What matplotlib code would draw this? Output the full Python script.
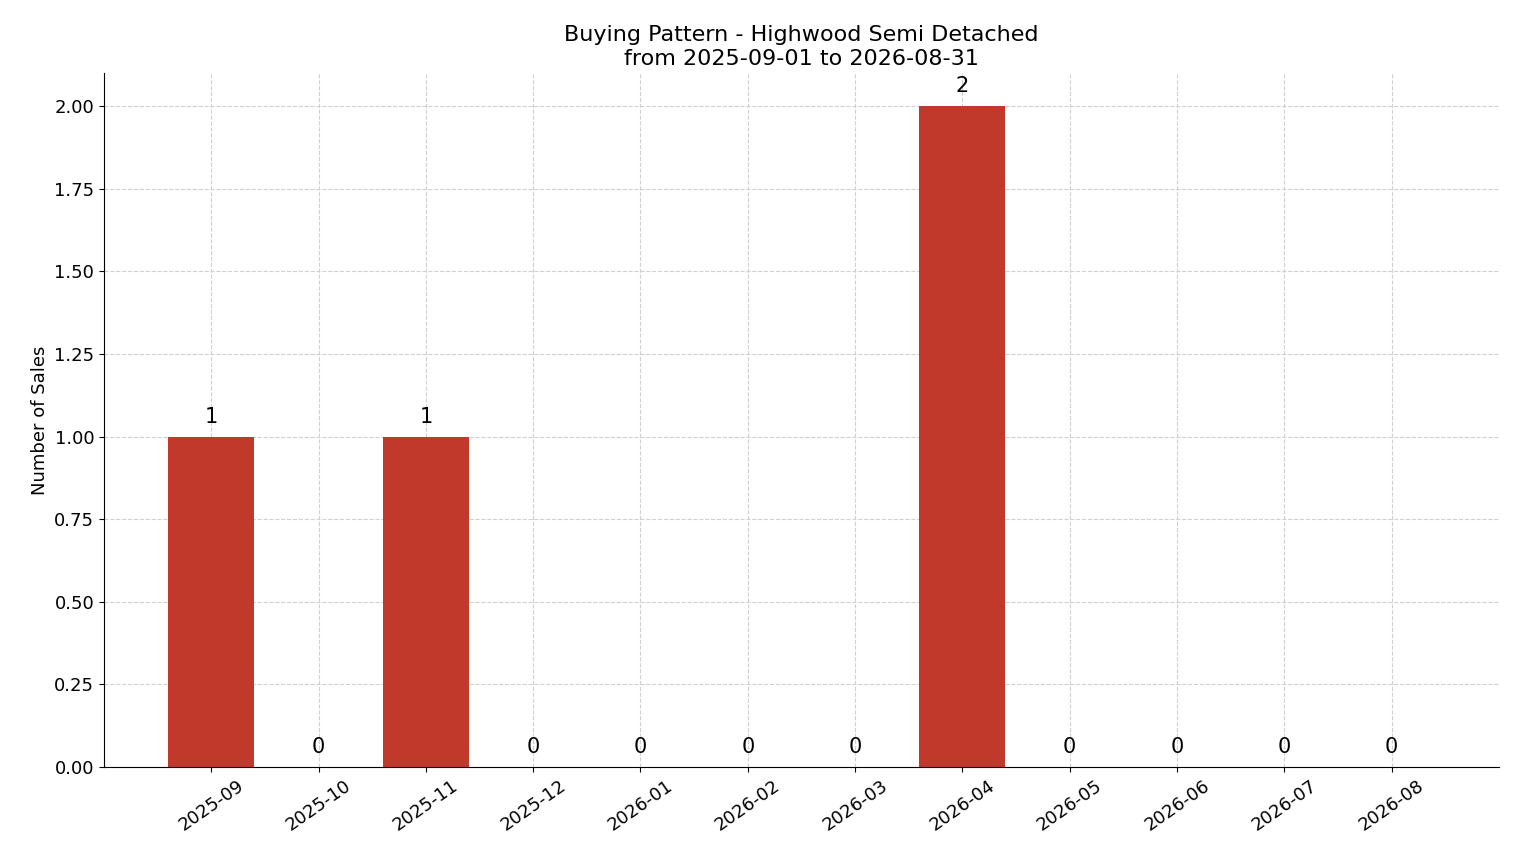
import matplotlib
matplotlib.use("Agg")
import matplotlib.pyplot as plt

months = ["2025-09","2025-10","2025-11","2025-12","2026-01","2026-02",
          "2026-03","2026-04","2026-05","2026-06","2026-07","2026-08"]
sales = [1,0,1,0,0,0,0,2,0,0,0,0]

fig = plt.figure(figsize=(15.14, 8.63), dpi=100)
ax = fig.add_axes([0.0687, 0.1112, 0.9213, 0.8042])
x = list(range(len(months)))
ax.bar(x, sales, width=0.8, color="#c0392b", zorder=2)
for xi, v in zip(x, sales):
    ax.text(xi, v + 0.03, str(v), ha="center", va="bottom", fontsize=15)
ax.set_xlim(-1, 12)
ax.set_ylim(0, 2.1)
ax.set_xticks(x)
ax.set_xticklabels(months, rotation=35, fontsize=13)
ax.tick_params(axis="y", labelsize=13)
ax.set_yticks([0, 0.25, 0.5, 0.75, 1.0, 1.25, 1.5, 1.75, 2.0])
ax.set_ylabel("Number of Sales", fontsize=13)
ax.set_title("Buying Pattern - Highwood Semi Detached\nfrom 2025-09-01 to 2026-08-31", fontsize=16)
ax.grid(True, linestyle="--", color="#d0d0d0", linewidth=0.8, zorder=0)
ax.set_axisbelow(True)
ax.spines["top"].set_visible(False)
ax.spines["right"].set_visible(False)
fig.savefig("out.png", dpi=100)
